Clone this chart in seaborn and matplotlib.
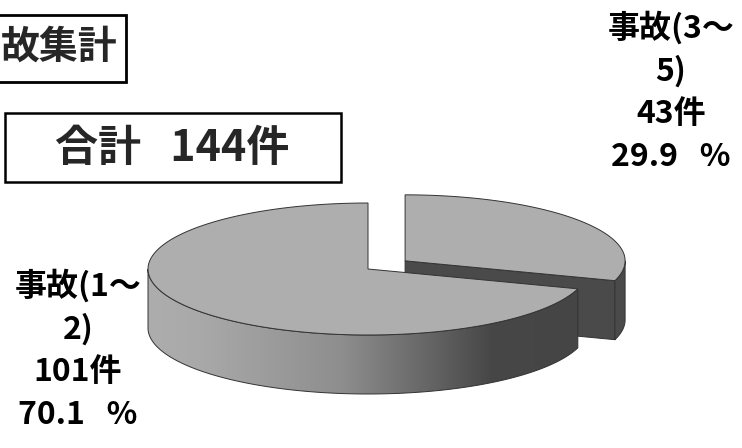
import numpy as np
import matplotlib
matplotlib.use("Agg")
import matplotlib.pyplot as plt
import seaborn as sns
from matplotlib.patches import Polygon, Rectangle
from matplotlib.colors import LinearSegmentedColormap

# ---- data ----
categories = ["事故(1～2)", "事故(3～5)"]
counts = [101, 43]
unit = "件"
title_text = "故集計"          # visible part of the title (its first character lies off the canvas)
total_label = "合計"

sns.set_theme(style="white")
plt.rcParams['font.family'] = ['Noto Sans CJK JP', 'DejaVu Sans']

W, H = 742, 448
fig = plt.figure(figsize=(W / 100, H / 100), dpi=100)
ax = fig.add_axes([0, 0, 1, 1])
ax.set_xlim(0, W)
ax.set_ylim(H, 0)
ax.axis('off')

total = sum(counts)
fracs = np.array(counts) / total

# ---- 3D pie geometry (pixel layout) ----
cx, cy = 368, 269
a, b = 220, 66
depth = 59
explode = 46
top_col = '#aeaeae'
dark_col = '#4a4a4a'
edge_col = '#333333'

theta_split = 90 - 360 * fracs[1]          # boundary between slices (math degrees)
small_rng = (theta_split, 90)
big_rng = (90, theta_split + 360)


def arc(t0, t1, ox=0, oy=0, dz=0, n=120):
    t = np.radians(np.linspace(t0, t1, n))
    return np.column_stack([cx + ox + a * np.cos(t), cy + oy - b * np.sin(t) + dz])


# small slice (exploded)
mid = np.radians(sum(small_rng) / 2)
ox, oy = explode * np.cos(mid), -explode * np.sin(mid) * b / a
c_s = np.array([cx + ox, cy + oy])
rim = arc(theta_split, theta_split, ox, oy, n=1)[0]
face = np.array([c_s, rim, rim + [0, depth], c_s + [0, depth]])
ax.add_patch(Polygon(face, closed=True, fc=dark_col, ec=edge_col, lw=0.7))
wall_s = np.vstack([arc(theta_split, 0, ox, oy), arc(0, theta_split, ox, oy, depth)])
ax.add_patch(Polygon(wall_s, closed=True, fc=dark_col, ec=edge_col, lw=0.7))
top_s = np.vstack([c_s, arc(small_rng[0], small_rng[1], ox, oy)])
ax.add_patch(Polygon(top_s, closed=True, fc=top_col, ec=edge_col, lw=0.7))

# big slice
wall_b = np.vstack([arc(180, big_rng[1]), arc(big_rng[1], 180, dz=depth)])
wall_patch = Polygon(wall_b, closed=True, fc='none', ec=edge_col, lw=0.7, zorder=3)
ax.add_patch(wall_patch)
grad_cmap = LinearSegmentedColormap.from_list(
    'g', [(0, '#adadad'), (0.12, '#a9a9a9'), (0.45, '#8e8e8e'),
          (0.65, '#666666'), (0.8, '#474747'), (1.0, '#454545')])
x0, x1 = wall_b[:, 0].min(), wall_b[:, 0].max()
y0, y1 = wall_b[:, 1].min(), wall_b[:, 1].max()
img = ax.imshow(np.linspace(0, 1, 256)[None, :], cmap=grad_cmap, vmin=0, vmax=1,
                extent=(x0, x1, y1, y0), aspect='auto', interpolation='bilinear', zorder=2)
img.set_clip_path(wall_patch)
top_b = np.vstack([[cx, cy], arc(big_rng[0], big_rng[1])])
ax.add_patch(Polygon(top_b, closed=True, fc=top_col, ec=edge_col, lw=0.7, zorder=4))
ax.set_xlim(0, W)
ax.set_ylim(H, 0)

# ---- labels ----
def label_text(i):
    name = categories[i]
    return f"{name[:5]}\n{name[5:]}\n{counts[i]}{unit}\n{100 * fracs[i]:.1f}   %"

lab_kw = dict(ha='center', va='center', fontsize=23, fontweight='bold',
              linespacing=1.42, color='black', zorder=5)
ax.text(78, 350, label_text(0), **lab_kw)
ax.text(671, 92, label_text(1), **lab_kw)

# title box (partially outside canvas)
ax.add_patch(Rectangle((-10, 15), 136, 67, fill=False, ec='black', lw=2, zorder=5))
ax.text(117, 47, title_text, ha='right', va='center', fontsize=28,
        fontweight='bold', zorder=6)

# total box
ax.add_patch(Rectangle((5, 113), 336, 69, fill=False, ec='black', lw=1.8, zorder=5))
ax.text(172, 148, f"{total_label}   {total}{unit}", ha='center', va='center',
        fontsize=31, fontweight='bold', zorder=6)

fig.savefig('out.png', dpi=100)
